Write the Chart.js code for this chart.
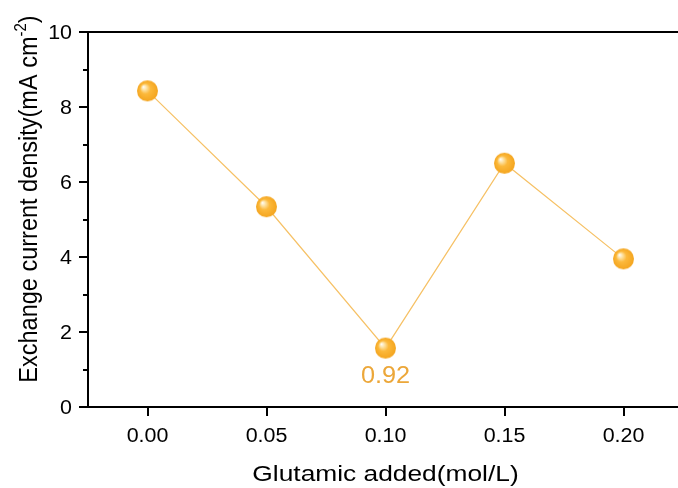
<!DOCTYPE html>
<html>
<head>
<meta charset="utf-8">
<script src="https://cdn.jsdelivr.net/npm/chart.js@4"></script>
<style>
html, body { margin: 0; padding: 0; overflow: hidden; background: #fff; }
canvas { display: block; }
</style>
</head>
<body>
<canvas id="chart" width="683" height="488"></canvas>
<script>
// data
const glutamic = [0.00, 0.05, 0.10, 0.15, 0.20];
const currentDensity = [8.43, 5.34, 1.57, 6.50, 3.95];
const pointNotes = ['', '', '0.92', '', ''];
const xTicks = [0.00, 0.05, 0.10, 0.15, 0.20];
const yTicks = [0, 2, 4, 6, 8, 10];
const yMinorTicks = [1, 3, 5, 7, 9];

const xTitle = 'Glutamic added(mol/L)';
const yTitle = 'Exchange current density(mA cm';
const yTitleSup = '-2';

const FONT = '"Liberation Sans", Arial, sans-serif';

// shaded orange ball used as the marker
function makeBall(r) {
    const c = document.createElement('canvas');
    c.width = c.height = Math.ceil(r * 2 + 2);
    const g = c.getContext('2d');
    const cx = c.width / 2, cy = c.height / 2;
    const grad = g.createRadialGradient(cx - r * 0.4, cy - r * 0.4, 0, cx, cy, r);
    grad.addColorStop(0, '#ffffff');
    grad.addColorStop(0.22, '#fde3a6');
    grad.addColorStop(0.5, '#fcb93b');
    grad.addColorStop(1, '#f4a51f');
    g.fillStyle = grad;
    g.beginPath();
    g.arc(cx, cy, r, 0, Math.PI * 2);
    g.fill();
    return c;
}
const ball = makeBall(10.5);

// text is a little wider than tall in the original
function wideText(ctx, text, x, y, size, sx, align) {
    ctx.save();
    ctx.translate(x, y);
    ctx.scale(sx, 1);
    ctx.font = size + 'px ' + FONT;
    ctx.textAlign = align;
    ctx.textBaseline = 'alphabetic';
    ctx.fillText(text, 0, 0);
    ctx.restore();
}

// extra drawing: top frame line, minor y ticks, labels, titles, note under a point
const extras = {
    id: 'extras',
    afterDraw(chart) {
        const ctx = chart.ctx;
        const a = chart.chartArea;
        const xs = chart.scales.x;
        const ys = chart.scales.y;
        ctx.save();
        ctx.strokeStyle = '#000';
        ctx.lineWidth = 2;
        ctx.beginPath();
        ctx.moveTo(a.left - 1, a.top);
        ctx.lineTo(chart.width, a.top);
        ctx.stroke();
        yMinorTicks.forEach(v => {
            const py = Math.round(ys.getPixelForValue(v));
            ctx.beginPath();
            ctx.moveTo(a.left - 5, py);
            ctx.lineTo(a.left, py);
            ctx.stroke();
        });

        ctx.fillStyle = '#000';
        xTicks.forEach(v => {
            wideText(ctx, v.toFixed(2), xs.getPixelForValue(v), 442, 19.5, 1.1, 'center');
        });
        yTicks.forEach(v => {
            wideText(ctx, String(v), 72, ys.getPixelForValue(v) + 7, 19.5, 1.1, 'right');
        });

        wideText(ctx, xTitle, (a.left + a.right) / 2, 481, 22.5, 1.17, 'center');

        // rotated y title with superscript
        ctx.save();
        ctx.translate(37, 199);
        ctx.rotate(-Math.PI / 2);
        ctx.scale(1, 1.1);
        ctx.textBaseline = 'alphabetic';
        ctx.textAlign = 'left';
        ctx.font = '23.5px ' + FONT;
        const w1 = ctx.measureText(yTitle).width;
        ctx.font = '15px ' + FONT;
        const w2 = ctx.measureText(yTitleSup).width;
        ctx.font = '23.5px ' + FONT;
        const w3 = ctx.measureText(')').width;
        const x0 = -(w1 + w2 + w3) / 2;
        ctx.fillText(yTitle, x0, 0);
        ctx.font = '15px ' + FONT;
        ctx.fillText(yTitleSup, x0 + w1, -10);
        ctx.font = '23.5px ' + FONT;
        ctx.fillText(')', x0 + w1 + w2, 0);
        ctx.restore();

        // note under the point
        const meta = chart.getDatasetMeta(0);
        ctx.fillStyle = '#eca739';
        pointNotes.forEach((t, i) => {
            if (!t) return;
            const p = meta.data[i];
            wideText(ctx, t, p.x, p.y + 35, 23, 1.1, 'center');
        });
        ctx.restore();
    }
};

const ctx = document.getElementById('chart').getContext('2d');
new Chart(ctx, {
    type: 'line',
    data: {
        datasets: [{
            data: glutamic.map((x, i) => ({ x: x, y: currentDensity[i] })),
            borderColor: '#f6c165',
            borderWidth: 1.2,
            pointStyle: ball,
            pointRadius: 10.5,
            tension: 0,
            fill: false,
            clip: false
        }]
    },
    options: {
        responsive: false,
        animation: false,
        layout: { autoPadding: false, padding: { top: 32, right: 0, left: 0, bottom: 0 } },
        plugins: { legend: { display: false }, tooltip: { enabled: false } },
        scales: {
            x: {
                type: 'linear',
                min: -0.025,
                max: 0.225,
                afterBuildTicks: s => { s.ticks = xTicks.map(v => ({ value: v })); },
                afterFit: s => { s.height = 81; s.paddingLeft = 0; s.paddingRight = 0; },
                ticks: { color: 'transparent', font: { size: 1, family: FONT }, padding: 0, maxRotation: 0 },
                grid: { drawOnChartArea: false, drawTicks: true, tickLength: 9, color: '#000', lineWidth: 2 },
                border: { display: true, color: '#000', width: 2 }
            },
            y: {
                min: 0,
                max: 10,
                afterBuildTicks: s => { s.ticks = yTicks.map(v => ({ value: v })); },
                afterFit: s => { s.width = 88; s.paddingTop = 0; s.paddingBottom = 0; },
                ticks: { color: 'transparent', font: { size: 1, family: FONT }, padding: 0 },
                grid: { drawOnChartArea: false, drawTicks: true, tickLength: 9, color: '#000', lineWidth: 2 },
                border: { display: true, color: '#000', width: 2 }
            }
        }
    },
    plugins: [extras]
});
</script>
</body>
</html>
